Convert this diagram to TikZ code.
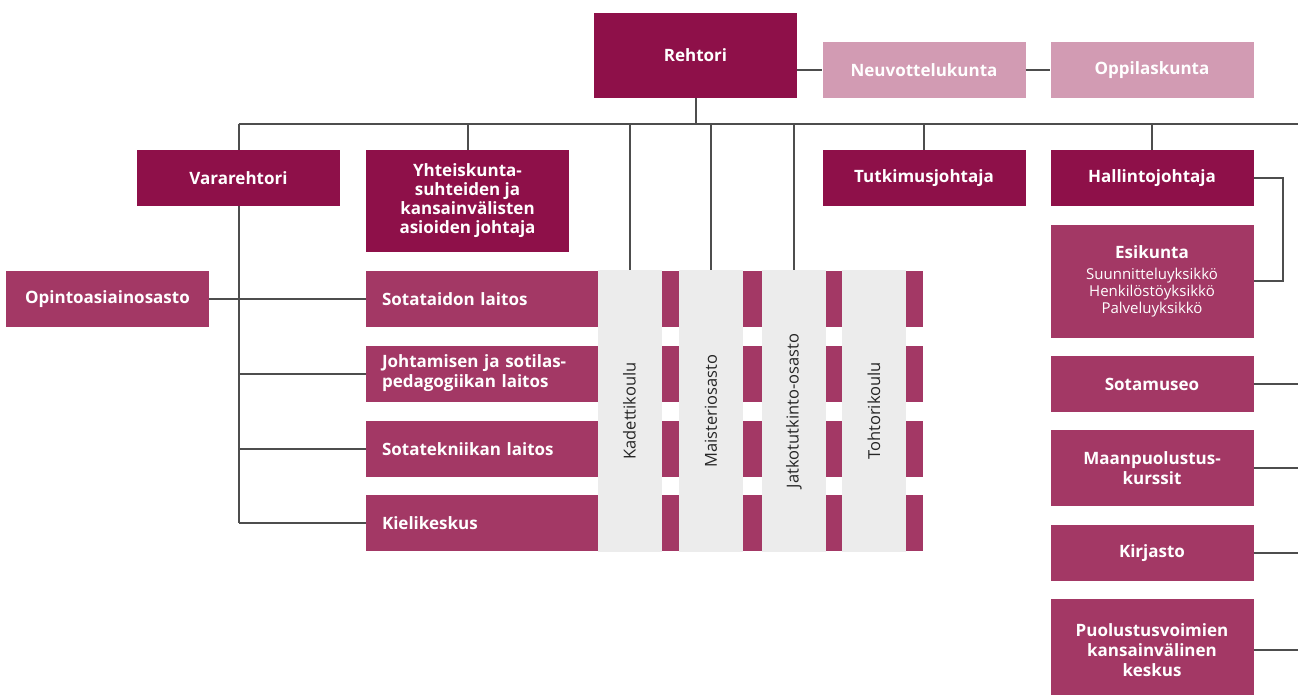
\documentclass[tikz,border=0pt]{standalone}
\usepackage{fontspec}
\setmainfont{Open Sans}
\definecolor{rectordark}{HTML}{8E1049}
\definecolor{unitmagenta}{HTML}{A33865}
\definecolor{councilpink}{HTML}{D29BB3}
\definecolor{schoolgray}{HTML}{ECECEC}
\definecolor{linegray}{HTML}{4D4D4D}
\newcommand{\subunitfont}{\normalfont\fontsize{15}{17}\selectfont}

\begin{document}
\begin{tikzpicture}[x=1pt,y=-1pt]
\tikzstyle{leadbox} = [rectangle, fill=rectordark, text=white, font=\bfseries\fontsize{17}{20}\selectfont, align=center, inner sep=0pt, minimum width=203, minimum height=56]
\tikzstyle{councilbox} = [leadbox, fill=councilpink]
\tikzstyle{unitbox} = [leadbox, fill=unitmagenta]
\tikzstyle{deptrow} = [unitbox, text width=525, inner xsep=16, align=left]
\tikzstyle{school} = [rectangle, fill=schoolgray, text=black!85, font=\fontsize{16.5}{20}\selectfont, rotate=90, minimum width=282, minimum height=64, inner sep=0pt]
\tikzstyle{link} = [draw=linegray, line width=2pt]

\useasboundingbox (0,0) rectangle (1298,695);

\node(rehtori) [leadbox, minimum height=85] at (695.5,55.5) {Rehtori};
\node(neuvottelu) [councilbox] at (924,70) {Neuvottelukunta};
\node(oppilas) [councilbox] at (1152,70) {Oppilaskunta};
\node(vararehtori) [leadbox] at (238.5,178) {Vararehtori};
\node(yhteiskunta) [leadbox, minimum height=101] at (467.5,201) {Yhteiskunta-\\[-1pt]suhteiden ja\\[-1pt]kansainvälisten\\[-1pt]asioiden johtaja};
\node(tutkimus) [leadbox] at (924,178) {Tutkimusjohtaja};
\node(hallinto) [leadbox] at (1152,178) {Hallintojohtaja};
\node(opinto) [unitbox] at (107.5,299) {Opintoasiainosasto};
\node(sotataito) [deptrow] at (644.5,299) {Sotataidon laitos};
\node(johtaminen) [deptrow] at (644.5,373.5) {Johtamisen ja sotilas-\\pedagogiikan laitos};
\node(sotatekniikka) [deptrow] at (644.5,449) {Sotatekniikan laitos};
\node(kieli) [deptrow] at (644.5,523) {Kielikeskus};
\node(kadetti) [school] at (629.5,411) {Kadettikoulu};
\node(maisteri) [school] at (711,411) {Maisteriosasto};
\node(jatko) [school] at (794,411) {Jatkotutkinto-osasto};
\node(tohtori) [school] at (874,411) {Tohtorikoulu};
\node(esikunta) [unitbox, minimum height=113] at (1152,281) {Esikunta\\[1pt]{\subunitfont Suunnitteluyksikkö}\\[-3pt]{\subunitfont Henkilöstöyksikkö}\\[-3pt]{\subunitfont Palveluyksikkö}};
\node(sotamuseo) [unitbox] at (1152,384) {Sotamuseo};
\node(maanpuolustus) [unitbox, minimum height=76] at (1152,468) {Maanpuolustus-\\kurssit};
\node(kirjasto) [unitbox] at (1152,553) {Kirjasto};
\node(puolustus) [unitbox, minimum height=102] at (1152,650) {Puolustusvoimien\\kansainvälinen\\keskus};

\coordinate (busleft) at (238.5,124);
\coordinate (busright) at (1298,124);
\draw[link] (busleft) -- (busright);
\draw[link] (rehtori.south) -- (rehtori.south |- busleft);
\draw[link] (neuvottelu.west -| rehtori.east) -- (neuvottelu.west);
\draw[link] (neuvottelu) -- (oppilas);
\draw[link] (vararehtori.north) -- (vararehtori.north |- busleft);
\draw[link] (yhteiskunta.north) -- (yhteiskunta.north |- busleft);
\draw[link] (tutkimus.north) -- (tutkimus.north |- busleft);
\draw[link] (hallinto.north) -- (hallinto.north |- busleft);
\draw[link] (kadetti.east) -- (kadetti.east |- busleft);
\draw[link] (maisteri.east) -- (maisteri.east |- busleft);
\draw[link] (jatko.east) -- (jatko.east |- busleft);
\draw[link] (vararehtori.south) -- (vararehtori.south |- kieli.west);
\draw[link] (opinto.east) -- (sotataito.west);
\draw[link] (johtaminen.west -| vararehtori.south) -- (johtaminen.west);
\draw[link] (sotatekniikka.west -| vararehtori.south) -- (sotatekniikka.west);
\draw[link] (kieli.west -| vararehtori.south) -- (kieli.west);
\draw[link] (hallinto.east) -- ++(29,0) |- (esikunta.east);
\draw[link] (sotamuseo.east) -- (sotamuseo.east -| busright);
\draw[link] (maanpuolustus.east) -- (maanpuolustus.east -| busright);
\draw[link] (kirjasto.east) -- (kirjasto.east -| busright);
\draw[link] (puolustus.east) -- (puolustus.east -| busright);
\end{tikzpicture}
\end{document}
